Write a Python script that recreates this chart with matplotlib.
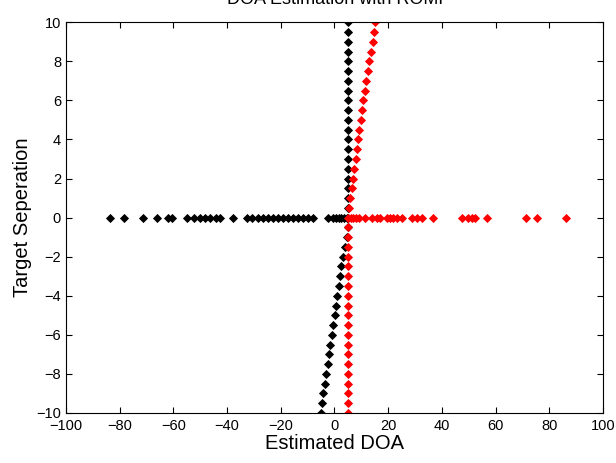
import numpy as np
import matplotlib
matplotlib.use("Agg")
import matplotlib.pyplot as plt

plt.rcParams['font.family'] = ['Liberation Sans', 'DejaVu Sans']

# separation values (y) for the sweep, step 0.5
sep_neg = [-10, -9.5, -9, -8.5, -8, -7.5, -7, -6.5, -6, -5.5, -5, -4.5, -4, -3.5, -3,
           -2.5, -2, -1.5, -1, -0.5]
sep_pos = [0.5, 1, 1.5, 2, 2.5, 3, 3.5, 4, 4.5, 5, 5.5, 6, 6.5, 7, 7.5, 8, 8.5, 9, 9.5, 10]

# black target estimates
black_neg = [-5.0, -4.7, -4.2, -3.5, -3.2, -2.5, -2.2, -1.7, -1.0, -0.7, 0.2, 0.6, 1.0,
             1.7, 2.05, 2.4, 3.3, 3.9, 4.5, 4.9]
black_pos = [5.0] * 20
black_zero = [-83.6, -78.4, -71.4, -66.2, -61.9, -60.6, -54.8, -52.3, -50.1, -48.2, -46.4,
              -44.1, -42.6, -37.8, -32.7, -30.8, -28.4, -26.5, -24.7, -22.9, -21.0, -19.2,
              -17.3, -15.5, -13.6, -11.7, -9.9, -8.0, -2.4, -0.6, 0.5, 1.5, 2.5, 3.5, 4.5, 5.0]

# red target estimates
red_neg = [5.0] * 20
red_pos = [5.4, 5.8, 6.4, 6.8, 7.3, 8.0, 8.4, 8.9, 9.2, 9.8, 10.1, 10.7, 11.3, 11.7, 12.6,
           12.9, 13.6, 14.2, 14.7, 15.1]
red_zero = [5.0, 6.0, 7.0, 8.0, 9.0, 11.4, 13.9, 15.7, 16.9, 19.4, 20.7, 21.8, 23.2, 25.0,
            28.8, 30.6, 32.5, 36.8, 47.4, 49.8, 51.1, 52.3, 56.7, 71.3, 75.5, 86.2]

fig = plt.figure(figsize=(6.16, 4.63), dpi=100)
ax = fig.add_axes([0.107, 0.108, 0.872, 0.844])

mk = dict(marker='D', markersize=3.7, linestyle='none', markeredgewidth=0.6)

ax.plot(black_neg + black_pos, sep_neg + sep_pos, color='black', **mk)
ax.plot(black_zero, [0] * len(black_zero), color='black', **mk)
ax.plot(red_neg + red_pos, sep_neg + sep_pos, color='red', **mk)
ax.plot(red_zero, [0] * len(red_zero), color='red', **mk)

ax.set_xlim(-100, 100)
ax.set_ylim(-10, 10)
ax.set_xticks(np.arange(-100, 101, 20))
ax.set_yticks(np.arange(-10, 11, 2))
ax.tick_params(direction='in', top=True, right=True, labelsize=10.5, length=4, width=0.8)
ax.tick_params(axis='x', pad=4)
for s in ax.spines.values():
    s.set_linewidth(0.8)

ax.set_xlabel('Estimated DOA', fontsize=14.5, labelpad=1)
ax.set_ylabel('Target Seperation', fontsize=14.5, labelpad=3)
fig.text(0.55, 1.0, 'DOA Estimation with ROMP', fontsize=13, ha='center', va='center')

fig.savefig('out.png', dpi=100)
